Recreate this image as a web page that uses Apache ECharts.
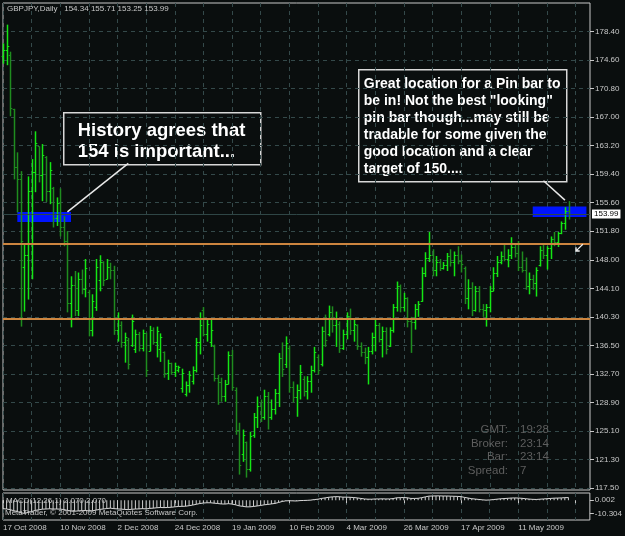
<!DOCTYPE html>
<html><head><meta charset="utf-8">
<script src="https://cdn.jsdelivr.net/npm/echarts@6.0.0/dist/echarts.min.js"></script>
<style>html,body{margin:0;padding:0;background:#0a0e0e;}#c{width:625px;height:536px;}</style>
</head><body><div id="c"></div>
<script>
// ---- data ----
var dateLabels = ['17 Oct 2008','10 Nov 2008','2 Dec 2008','24 Dec 2008','19 Jan 2009','10 Feb 2009','4 Mar 2009','26 Mar 2009','17 Apr 2009','11 May 2009'];
var priceTickLabels = ['117.50','121.30','125.10','128.90','132.70','136.50','140.30','144.10','148.00','151.80','155.60','159.40','163.20','167.00','170.80','174.60','178.40'];
var opens = [175.0,175.8,175.2,168.0,160.2,158.6,147.0,148.6,157.0,159.6,
163.0,159.2,161.6,157.0,157.4,153.4,155.4,152.2,150.4,142.2,
144.6,141.2,145.4,144.0,143.6,138.6,141.6,145.2,147.6,145.4,
147.0,146.6,138.6,139.2,137.0,137.2,136.5,136.0,138.0,136.2,
138.2,135.8,138.6,137.0,136.0,135.6,132.8,134.2,132.9,133.2,
130.8,130.0,131.2,131.8,133.2,137.0,141.2,138.0,137.0,136.4,
132.2,131.6,129.8,131.4,135.2,130.6,125.2,122.0,123.6,120.0,
124.6,127.0,128.4,127.0,129.8,127.0,128.0,130.2,134.8,134.0,
136.2,131.0,129.6,130.6,132.0,130.4,131.8,133.2,135.0,134.0,
138.4,138.0,141.0,139.2,139.4,136.2,138.0,140.4,138.6,139.2,
136.4,135.6,135.0,135.8,137.6,139.2,137.4,138.4,136.4,138.6,
141.6,144.4,141.6,142.8,139.8,139.6,141.4,142.4,146.2,148.2,
148.6,146.6,147.6,146.8,147.2,148.4,147.6,148.6,147.8,146.8,
142.8,144.2,141.2,143.8,141.4,141.2,141.6,143.8,146.2,147.6,
148.4,148.0,148.6,149.6,148.8,147.0,146.6,144.4,145.4,144.8,
147.2,149.2,148.6,149.4,150.6,150.2,151.4,152.8,154.34];
var highs = [176.7,179.2,175.6,168.0,162.2,159.7,150.0,159.0,161.3,165.0,
163.0,163.3,161.7,160.9,157.6,156.2,157.4,153.7,151.7,145.7,
146.4,146.2,146.6,148.0,143.9,143.3,148.0,148.5,147.7,148.0,
147.5,147.1,140.9,139.7,138.2,137.5,140.6,138.6,138.3,138.6,
138.2,139.1,138.9,139.0,138.1,135.7,134.6,134.2,134.2,133.8,
133.4,131.7,133.1,133.7,137.5,140.9,141.6,139.9,139.9,136.6,
132.6,132.2,131.9,135.7,135.9,130.9,126.2,125.3,123.7,125.0,
127.5,129.7,129.3,130.6,130.3,129.3,130.7,135.5,136.9,137.7,
136.5,131.7,131.3,133.9,132.4,132.4,133.8,136.3,135.3,139.0,
140.6,141.8,141.7,141.0,139.7,138.6,140.9,141.4,139.9,139.3,
136.9,136.2,136.3,138.2,139.9,139.5,139.0,138.9,138.9,142.0,
145.0,144.6,143.5,142.9,140.3,142.0,142.4,146.9,148.9,151.6,
149.3,148.4,148.0,147.6,148.8,149.3,149.0,149.7,148.6,147.0,
145.3,144.9,144.4,144.4,142.0,142.0,144.4,146.9,148.4,149.0,
149.9,149.3,150.9,149.9,150.4,149.0,148.2,146.2,145.9,146.9,
149.7,149.9,149.7,151.0,151.6,151.6,153.0,154.9,155.71];
var lows = [174.0,173.8,167.0,158.6,154.2,139.0,141.0,142.6,145.3,156.9,
158.2,155.7,155.6,155.3,152.2,152.4,151.0,149.7,140.9,138.9,
140.4,140.4,143.3,142.9,137.7,137.7,141.1,143.7,144.4,145.3,
145.3,137.9,137.0,136.2,134.2,133.3,136.3,135.5,135.7,135.7,
132.3,135.7,136.6,134.9,134.3,132.2,131.9,132.6,132.3,132.9,
130.2,129.7,130.2,131.3,132.9,135.3,137.7,137.0,136.3,131.7,
128.6,129.0,129.0,131.3,130.5,124.6,119.3,121.0,118.9,119.7,
124.2,125.5,126.3,126.6,125.3,126.6,127.3,128.3,132.3,133.5,
130.2,128.9,127.0,129.3,129.7,129.3,130.2,132.9,132.6,133.7,
136.3,137.7,138.2,136.3,135.5,135.9,137.3,137.9,137.0,135.9,
135.0,134.0,131.3,135.3,135.7,136.9,134.9,135.3,136.3,138.2,
141.0,140.9,141.0,138.9,135.5,138.6,140.3,142.3,145.6,147.6,
145.7,145.7,146.4,146.6,146.4,147.0,145.7,147.3,146.2,142.0,
141.3,140.4,141.0,140.9,140.3,139.0,140.9,143.7,145.6,147.3,
147.7,146.9,148.0,148.2,146.4,146.2,143.9,143.3,143.9,143.0,
147.0,148.0,146.6,148.0,149.7,149.6,151.3,151.9,153.25];
var closes = [175.8,176.4,168.1,160.2,158.6,150.4,148.6,157.0,159.6,163.4,
159.2,161.8,157.0,159.8,153.4,155.4,152.2,150.4,142.2,144.6,
141.2,145.4,144.0,146.8,138.6,142.4,147.0,147.6,145.2,147.0,
146.6,138.6,140.0,137.0,137.6,134.0,139.8,138.0,136.2,138.2,
133.2,138.6,137.0,138.4,137.6,132.8,134.2,132.9,133.8,133.6,
132.8,131.2,132.6,133.2,137.0,139.2,138.0,139.4,138.6,132.2,
131.6,129.8,131.4,135.2,131.0,125.2,120.6,124.6,120.0,124.4,
127.0,128.4,127.0,129.8,127.0,128.0,130.2,134.8,133.4,136.8,
131.0,129.6,130.6,133.0,130.4,131.8,133.2,135.6,133.2,138.4,
137.2,141.0,139.2,140.2,136.2,138.0,140.4,138.6,139.4,136.4,
135.6,135.0,135.8,137.6,139.2,137.4,138.4,136.0,138.6,141.6,
144.4,141.6,142.8,139.8,139.6,141.4,142.0,146.2,148.2,148.6,
146.6,147.6,146.8,147.2,148.4,147.6,148.6,147.8,147.4,142.8,
144.2,141.2,143.8,141.4,141.2,141.6,143.8,146.2,147.6,148.4,
148.0,148.6,149.6,148.8,147.0,146.6,144.4,145.4,144.8,146.6,
149.2,148.6,149.4,150.6,150.2,151.4,152.8,154.4,153.99];
var macd = [-6.6,-6.9,-7.4,-8.2,-8.9,-9.9,-10.3,-9.6,-8.9,-8.0,
-7.5,-7.0,-6.9,-6.7,-6.9,-6.9,-7.0,-7.3,-8.0,-8.5,
-8.6,-8.4,-8.3,-8.0,-8.4,-8.3,-7.7,-7.2,-6.9,-6.5,
-6.2,-6.6,-6.8,-7.0,-7.2,-7.4,-7.1,-6.9,-6.8,-6.6,
-6.8,-6.4,-6.2,-5.9,-5.7,-5.8,-5.7,-5.5,-5.2,-4.9,
-4.8,-4.7,-4.3,-3.8,-3.2,-2.6,-2.2,-2.0,-2.0,-2.3,
-2.6,-2.9,-3.0,-2.7,-3.0,-3.6,-4.4,-4.8,-5.2,-5.2,
-4.9,-4.5,-4.1,-3.6,-3.3,-2.9,-2.5,-1.8,-1.0,-0.5,
-0.4,-0.5,-0.6,-0.3,-0.2,-0.1,0.1,0.5,0.8,1.4,
1.8,2.3,2.6,2.8,2.7,2.4,2.4,2.3,2.1,1.8,
1.4,1.0,0.8,0.8,1.0,1.0,1.1,1.0,1.0,1.3,
1.9,2.0,2.1,1.9,1.4,1.4,1.5,2.0,2.6,3.2,
3.3,3.4,3.4,3.3,3.3,3.2,3.1,3.0,2.8,2.2,
1.7,1.2,0.9,0.6,0.3,0.1,0.2,0.5,0.8,1.1,
1.3,1.5,1.7,1.8,1.7,1.5,1.2,0.9,0.7,0.6,
0.8,1.0,1.2,1.4,1.6,1.7,1.8,2.0,2.07];
var supportLevels = [150, 140];
var lastPrice = 153.99;
var zoneLeft = [4, 19, 154.27, 152.94];
var zoneRight = [147.5, 162.6, 155.0, 153.6];
var slotCount = 165;

// ---- build ----
var cats = [];
for (var i = 0; i < slotCount; i++) cats.push(String(i));
var ohlc = opens.map(function (o, i) { return [i, o, highs[i], lows[i], closes[i]]; });
var macdData = macd.map(function (v, i) { return [i, v]; });
var priceTickIdx = priceTickLabels.map(function (s, i) { return i; });

var BG = '#0a0e0e', GRIDC = '#34494a', TXT = '#c8c8c8', FONT = 'Liberation Sans, Arial, sans-serif';
var Y0MIN = 117.25, Y0MAX = 182.08, STEP = 3.8, BASE = 117.5;

var chart = echarts.init(document.getElementById('c'), null, {renderer: 'canvas'});
var option = {
  backgroundColor: BG,
  animation: false,
  grid: [
    {left: 3, top: 3, width: 587, height: 487, show: true, borderColor: '#c8c8c8', borderWidth: 1, backgroundColor: 'transparent'},
    {left: 3, top: 493, width: 587, height: 27, show: true, borderColor: '#c8c8c8', borderWidth: 1, backgroundColor: 'transparent'}
  ],
  xAxis: [
    {type: 'category', gridIndex: 0, data: cats, boundaryGap: false,
     axisLine: {show: false}, axisTick: {show: false}, axisLabel: {show: false},
     splitLine: {show: true, interval: 7, lineStyle: {color: GRIDC, type: [4, 4], width: 1}}},
    {type: 'category', gridIndex: 1, data: cats, boundaryGap: false,
     axisLine: {show: false},
     axisTick: {show: true, interval: 15, length: 3, lineStyle: {color: TXT}},
     axisLabel: {show: true, interval: 15, align: 'left', margin: 4, color: TXT, fontSize: 8, fontFamily: FONT,
       formatter: function (v, idx) { return (idx % 16 === 0 && dateLabels[idx / 16]) ? dateLabels[idx / 16] : ''; }},
     splitLine: {show: true, interval: 7, lineStyle: {color: GRIDC, type: [4, 4], width: 1}}}
  ],
  yAxis: [
    {type: 'value', gridIndex: 0, min: Y0MIN, max: Y0MAX, position: 'right', show: false, splitLine: {show: false}},
    {type: 'value', gridIndex: 0, position: 'right',
     min: (Y0MIN - BASE) / STEP, max: (Y0MAX - BASE) / STEP, interval: 1,
     axisLine: {show: false},
     axisTick: {show: true, length: 4, customValues: priceTickIdx, lineStyle: {color: TXT}},
     axisLabel: {show: true, margin: 5, color: TXT, fontSize: 8, fontFamily: FONT, customValues: priceTickIdx,
       formatter: function (v) { var k = Math.round(v); return Math.abs(v - k) < 1e-6 ? (priceTickLabels[k] || '') : ''; }},
     splitLine: {show: true, lineStyle: {color: GRIDC, type: [4, 4], width: 1}}},
    {type: 'value', gridIndex: 1, position: 'right', min: -15.5, max: 5.66,
     axisLine: {show: false},
     axisTick: {show: true, length: 4, customValues: [0, -10.304], lineStyle: {color: TXT}},
     axisLabel: {show: true, margin: 5, color: TXT, fontSize: 8, fontFamily: FONT, customValues: [0, -10.304],
       formatter: function (v) { return v === 0 ? '0.002' : '-10.304'; }},
     splitLine: {show: false}}
  ],
  series: [
    {type: 'line', name: 'zones', xAxisIndex: 0, yAxisIndex: 0, data: [], z: 1, silent: true,
     markArea: {silent: true, itemStyle: {color: '#0014ff', opacity: 1},
       data: [
         [{coord: [zoneLeft[0], zoneLeft[2]]}, {coord: [zoneLeft[1], zoneLeft[3]]}],
         [{coord: [zoneRight[0], zoneRight[2]]}, {coord: [zoneRight[1], zoneRight[3]]}]
       ]},
     markLine: {silent: true, symbol: 'none', animation: false,
       lineStyle: {color: '#2f4646', width: 1, type: 'solid'},
       label: {show: true, position: 'end', distance: 2, formatter: '153.99', color: '#000', backgroundColor: '#ffffff',
               padding: [1, 2, 0, 2], fontSize: 8, fontFamily: FONT},
       data: [{yAxis: lastPrice}]}
    },
    {type: 'custom', name: 'GBPJPY', xAxisIndex: 0, yAxisIndex: 0, z: 3,
     encode: {x: 0, y: [1, 2, 3, 4]},
     data: ohlc,
     renderItem: function (params, api) {
       var x = api.value(0), o = api.value(1), h = api.value(2), l = api.value(3), c = api.value(4);
       var pH = api.coord([x, h]), pL = api.coord([x, l]), pO = api.coord([x, o]), pC = api.coord([x, c]);
       var col = c >= o ? '#14e614' : '#1f8c1f';
       var X = Math.round(pH[0]) + 0.5;
       var yo = Math.round(pO[1]) + 0.5, yc = Math.round(pC[1]) + 0.5;
       return {type: 'group', children: [
         {type: 'line', shape: {x1: X, y1: pH[1], x2: X, y2: pL[1]}, style: {stroke: col, lineWidth: 1.5}},
         {type: 'line', shape: {x1: X - 1.8, y1: yo, x2: X, y2: yo}, style: {stroke: col, lineWidth: 1}},
         {type: 'line', shape: {x1: X, y1: yc, x2: X + 1.8, y2: yc}, style: {stroke: col, lineWidth: 1}}
       ]};
     }
    },
    {type: 'line', name: 'levels', xAxisIndex: 0, yAxisIndex: 0, data: [], z: 5, silent: true,
     markLine: {silent: true, symbol: 'none', animation: false, label: {show: false},
       data: [
         {yAxis: supportLevels[0], lineStyle: {color: '#cd853f', width: 2, type: 'solid'}},
         {yAxis: supportLevels[1], lineStyle: {color: '#cd853f', width: 2, type: 'solid'}},
         [{coord: [35.0, 160.74], lineStyle: {color: '#e8e8e8', width: 1.5, type: 'solid'}}, {coord: [17.5, 154.27]}],
         [{coord: [150.7, 158.41], lineStyle: {color: '#e8e8e8', width: 1.5, type: 'solid'}}, {coord: [156.55, 155.84]}]
       ]},
     markPoint: {silent: true,
       symbol: 'path://M8,0 L9,1 L2.6,7.4 L5,7.4 L5,9 L0,9 L0,4 L1.6,4 L1.6,6.4 Z',
       symbolSize: [8, 8], itemStyle: {color: '#f0f0f0'}, label: {show: false},
       data: [{coord: [160.6, 149.5]}]}
    },
    {type: 'bar', name: 'MACD', xAxisIndex: 1, yAxisIndex: 2, data: macdData, barWidth: 1, z: 2,
     itemStyle: {color: '#d0d0d0'}, silent: true},
    {type: 'line', name: 'Signal', xAxisIndex: 1, yAxisIndex: 2, data: macdData, symbol: 'none', z: 3,
     lineStyle: {color: '#d8d8d8', width: 1}, silent: true}
  ],
  graphic: [
    {type: 'text', left: 7, top: 5, z: 10, style: {text: 'GBPJPY,Daily   154.34 155.71 153.25 153.99', fill: TXT, font: '8px Liberation Sans'}},
    {type: 'group', left: 63, top: 112, z: 10, children: [
      {type: 'rect', shape: {x: 0, y: 0, width: 197, height: 52}, style: {fill: BG, stroke: '#d8d8d8', lineWidth: 1.5}},
      {type: 'text', x: 14, y: 7, style: {text: 'History agrees that\n154 is important...', fill: '#ffffff', font: 'bold 18.5px Liberation Sans', lineHeight: 21.5}}
    ]},
    {type: 'group', left: 358, top: 69, z: 10, children: [
      {type: 'rect', shape: {x: 0, y: 0, width: 208, height: 112}, style: {fill: BG, stroke: '#d8d8d8', lineWidth: 1.5}},
      {type: 'text', x: 5, y: 6, style: {text: 'Great location for a Pin bar to\nbe in! Not the best "looking"\npin bar though...may still be\ntradable for some given the\ngood location and a clear\ntarget of 150....', fill: '#ffffff', font: 'bold 14px Liberation Sans', lineHeight: 17}}
    ]},
    {type: 'text', x: 508, y: 423, z: 10, style: {text: 'GMT:\nBroker:\nBar:\nSpread:', fill: '#5e5e5e', font: '11.5px Liberation Sans', lineHeight: 13.6, align: 'right'}},
    {type: 'text', x: 520, y: 423, z: 10, style: {text: '19:28\n23:14\n23:14\n7', fill: '#5e5e5e', font: '11.5px Liberation Sans', lineHeight: 13.6}},
    {type: 'text', left: 6, top: 497, z: 10, style: {text: 'MACD(12,26,1) 2.070 2.070', fill: TXT, font: '8px Liberation Sans'}},
    {type: 'text', left: 5, top: 509, z: 10, style: {text: 'MetaTrader, © 2001-2009 MetaQuotes Software Corp.', fill: TXT, font: '8px Liberation Sans'}}
  ]
};
chart.setOption(option);
</script>
</body></html>
